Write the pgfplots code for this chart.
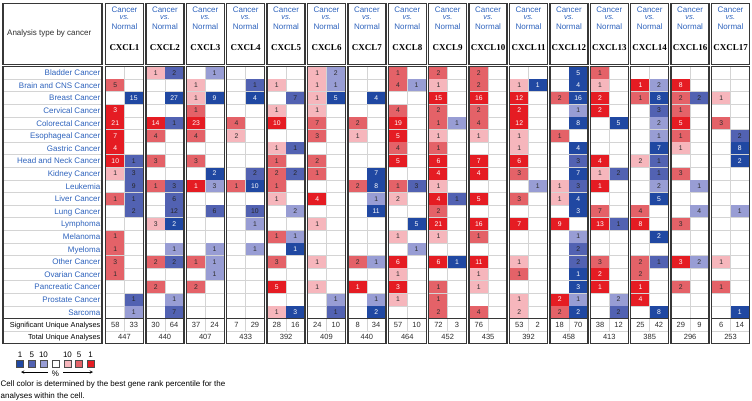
\documentclass[border=0pt]{standalone}
\usepackage{fontspec}
\setmainfont{Liberation Sans}
\newfontfamily\seriffont{Liberation Serif}
\usepackage{pgfplots}
\pgfplotsset{compat=1.18}
\usepackage{pgfplotstable}

\definecolor{rB}{RGB}{229,28,35}
\definecolor{rM}{RGB}{228,98,104}
\definecolor{rL}{RGB}{246,182,188}
\definecolor{bD}{RGB}{32,72,162}
\definecolor{bM}{RGB}{82,98,178}
\definecolor{bL}{RGB}{152,157,212}
\definecolor{lblue}{RGB}{45,98,188}
\definecolor{bordc}{RGB}{55,55,55}
\definecolor{gridc}{RGB}{212,212,212}
\definecolor{txt}{RGB}{45,45,45}

\pgfdeclareplotmark{cell}{\pgfpathrectangle{\pgfpoint{-9pt}{-6.05pt}}{\pgfpoint{18pt}{12.1pt}}\pgfusepathqfill}
\pgfdeclareplotmark{lsq}{\pgfpathrectangle{\pgfpoint{-3.7pt}{-3.7pt}}{\pgfpoint{7.4pt}{7.4pt}}\pgfusepathqfillstroke}

% g = gene index (0 = CXCL1 ... 15 = CXCL17), r = cancer row, n = number of analyses
\pgfplotstableread{
g r n
0 4 3
0 5 21
0 6 7
0 7 4
0 8 10
1 5 14
2 5 23
2 10 1
4 5 10
4 18 5
5 11 4
6 18 1
7 5 19
7 6 5
7 8 5
7 16 6
7 18 3
8 3 15
8 8 6
8 9 4
8 11 4
8 13 21
8 16 6
9 3 16
9 8 7
9 9 4
9 11 5
9 13 16
9 16 11
10 3 12
10 4 2
10 5 12
10 8 6
10 13 7
11 13 9
11 19 2
12 3 2
12 4 2
12 8 4
12 10 1
12 13 13
12 17 2
12 18 1
13 2 1
13 13 8
13 18 1
13 19 4
14 2 8
14 5 5
14 16 3
}\tRB
\pgfplotstableread{
g r n
0 2 5
0 11 1
0 14 1
0 15 1
0 16 3
0 17 1
1 6 4
1 8 3
1 10 1
1 16 2
1 18 2
2 4 1
2 6 4
2 8 3
2 16 1
2 18 2
3 5 4
3 10 1
4 8 1
4 9 2
4 10 1
4 14 1
4 16 3
5 5 7
5 6 3
5 8 2
5 9 1
6 5 2
6 10 2
6 16 2
7 1 1
7 2 4
7 4 4
7 7 4
7 10 1
8 1 2
8 4 2
8 5 1
8 7 1
8 12 2
8 18 1
8 19 1
8 20 2
9 1 2
9 2 2
9 4 2
9 5 4
9 14 1
9 20 4
10 9 3
10 11 3
10 17 1
11 3 2
11 6 1
11 20 2
12 1 1
12 12 7
12 16 3
13 3 1
13 12 4
13 16 2
13 17 2
14 3 2
14 4 1
14 6 1
14 9 3
14 13 3
14 18 2
15 5 3
15 18 1
}\tRM
\pgfplotstableread{
g r n
0 9 1
1 1 1
1 13 3
2 2 1
2 3 1
3 6 2
4 2 1
4 4 1
4 7 1
4 11 1
4 20 1
5 1 1
5 2 1
5 3 1
5 4 1
5 13 1
5 16 1
5 18 1
6 6 1
7 11 2
7 14 1
7 17 1
7 19 1
8 2 1
8 6 1
8 10 1
8 14 1
9 6 1
9 17 1
9 18 1
10 2 1
10 6 1
10 7 1
10 16 1
10 19 1
10 20 2
11 10 1
11 11 1
12 2 1
12 9 1
13 8 2
14 7 1
15 3 1
15 16 1
}\tRL
\pgfplotstableread{
g r n
0 3 15
1 3 27
1 13 2
2 3 9
2 9 2
3 3 4
3 10 10
4 15 1
4 20 3
5 3 5
6 3 4
6 9 7
6 10 8
6 12 11
6 20 2
7 13 5
8 16 1
10 2 1
11 1 5
11 2 4
11 3 16
11 5 8
11 7 4
11 9 7
11 11 4
11 12 3
11 17 1
11 18 3
11 20 2
12 5 5
13 3 8
13 7 7
13 11 5
13 14 2
13 20 8
15 7 8
15 8 2
15 20 1
}\tBD
\pgfplotstableread{
g r n
0 8 1
0 9 3
0 10 9
0 11 1
0 12 2
0 19 1
1 1 2
1 5 1
1 10 3
1 11 6
1 12 12
1 16 2
1 20 7
2 12 6
3 2 1
3 9 2
3 12 10
4 3 7
4 7 1
4 9 2
5 20 1
7 10 3
8 11 1
11 8 3
11 10 3
11 15 2
11 16 2
12 9 2
12 13 1
12 20 2
13 4 3
13 8 1
13 9 1
13 16 1
14 3 2
15 6 2
}\tBM
\pgfplotstableread{
g r n
0 20 1
1 15 1
1 19 1
2 1 1
2 10 3
2 15 1
2 16 1
2 17 1
3 13 1
3 15 1
4 12 2
4 14 1
5 1 2
5 2 1
5 19 1
6 11 1
6 16 1
6 19 1
7 2 1
7 15 1
8 5 1
10 10 1
11 4 1
11 14 1
11 19 1
12 19 2
13 2 2
13 5 2
13 6 1
13 10 2
14 10 1
14 12 4
14 16 2
15 12 1
}\tBL

\newcommand{\gene}[2]{\node[font=\seriffont\bfseries\fontsize{9}{10}\selectfont, inner sep=0, text=black] at (124.5+40.4*#1, 47.5) {#2};}
\newcommand{\summ}[4]{%
  \node[font=\fontsize{7.5}{8}\selectfont, inner sep=0, text=txt] at (115.25+40.4*#1, 324.75) {#2};
  \node[font=\fontsize{7.5}{8}\selectfont, inner sep=0, text=txt] at (133.75+40.4*#1, 324.75) {#3};
  \node[font=\fontsize{7.5}{8}\selectfont, inner sep=0, text=txt] at (124.5+40.4*#1, 337.25) {#4};}
\newcommand{\cname}[2]{\node[anchor=base east, font=\fontsize{8}{9}\selectfont, inner sep=0, text=lblue] at (100.5, 63.05+12.6*#1) {#2};}

\begin{document}
\begin{tikzpicture}
\begin{axis}[
  x=1pt, y=1pt, y dir=reverse,
  xmin=0, xmax=752, ymin=0, ymax=400,
  hide axis, clip=false, disabledatascaling,
  cellplot/.style={only marks, mark=cell, point meta=explicit symbolic, nodes near coords,
    every node near coord/.append style={anchor=center, inner sep=0, font=\fontsize{6.8}{8}\selectfont}},
]
\path (0,0) rectangle (752,400);

% light grid
\pgfplotsinvokeforeach{0,...,15}{
  \draw[gridc, line width=0.5pt] \foreach \k in {1,...,19}{(106+40.4*#1, 66.5+12.6*\k) -- (143+40.4*#1, 66.5+12.6*\k)};
  \draw[gridc, line width=0.5pt] (124.5+40.4*#1, 66.5) -- (124.5+40.4*#1, 331);
  \draw[gridc, line width=0.5pt] (106+40.4*#1, 331) -- (143+40.4*#1, 331);
}
\draw[gridc, line width=0.5pt] \foreach \k in {1,...,19}{(3, 66.5+12.6*\k) -- (102, 66.5+12.6*\k)};
\draw[gridc, line width=0.5pt] (3,331) -- (102,331);

% cells
\addplot[cellplot, color=rB, every node near coord/.append style={text=white}]
  table[x expr=115.25+40.4*\thisrow{g}, y expr=60.2+12.6*\thisrow{r}, meta=n] {\tRB};
\addplot[cellplot, color=rM, every node near coord/.append style={text=txt}]
  table[x expr=115.25+40.4*\thisrow{g}, y expr=60.2+12.6*\thisrow{r}, meta=n] {\tRM};
\addplot[cellplot, color=rL, every node near coord/.append style={text=txt}]
  table[x expr=115.25+40.4*\thisrow{g}, y expr=60.2+12.6*\thisrow{r}, meta=n] {\tRL};
\addplot[cellplot, color=bD, every node near coord/.append style={text=white}]
  table[x expr=133.75+40.4*\thisrow{g}, y expr=60.2+12.6*\thisrow{r}, meta=n] {\tBD};
\addplot[cellplot, color=bM, every node near coord/.append style={text=black!85}]
  table[x expr=133.75+40.4*\thisrow{g}, y expr=60.2+12.6*\thisrow{r}, meta=n] {\tBM};
\addplot[cellplot, color=bL, every node near coord/.append style={text=txt}]
  table[x expr=133.75+40.4*\thisrow{g}, y expr=60.2+12.6*\thisrow{r}, meta=n] {\tBL};

% borders and headers
\pgfplotsinvokeforeach{0,...,15}{
  \draw[bordc, line width=0.8pt] (106+40.4*#1, 318.5) -- (143+40.4*#1, 318.5);
  \draw[bordc, line width=1.3pt] (105.5+40.4*#1, 3.5) rectangle (143.5+40.4*#1, 64.5);
  \draw[bordc, line width=1.3pt] (105.5+40.4*#1, 66.5) rectangle (143.5+40.4*#1, 343.5);
  \node[text=lblue, font=\fontsize{8}{9}\selectfont, inner sep=0] at (124.5+40.4*#1, 9.5) {Cancer};
  \node[text=lblue, font=\itshape\fontsize{7.5}{9}\selectfont, inner sep=0] at (124.5+40.4*#1, 17.8) {vs.};
  \node[text=lblue, font=\fontsize{8}{9}\selectfont, inner sep=0] at (124.5+40.4*#1, 26.2) {Normal};
}
\draw[bordc, line width=0.8pt] (3,318.5) -- (102,318.5);
\draw[bordc, line width=1.3pt] (3,3.5) rectangle (102,64.5);
\draw[bordc, line width=1.3pt] (3,66.5) rectangle (102,343.5);
\node[anchor=base west, font=\fontsize{8}{9}\selectfont, inner sep=0, text=txt] at (7,35.8) {Analysis type by cancer};

\gene{0}{CXCL1}\gene{1}{CXCL2}\gene{2}{CXCL3}\gene{3}{CXCL4}
\gene{4}{CXCL5}\gene{5}{CXCL6}\gene{6}{CXCL7}\gene{7}{CXCL8}
\gene{8}{CXCL9}\gene{9}{CXCL10}\gene{10}{CXCL11}\gene{11}{CXCL12}
\gene{12}{CXCL13}\gene{13}{CXCL14}\gene{14}{CXCL16}\gene{15}{CXCL17}

\cname{1}{Bladder Cancer}
\cname{2}{Brain and CNS Cancer}
\cname{3}{Breast Cancer}
\cname{4}{Cervical Cancer}
\cname{5}{Colorectal Cancer}
\cname{6}{Esophageal Cancer}
\cname{7}{Gastric Cancer}
\cname{8}{Head and Neck Cancer}
\cname{9}{Kidney Cancer}
\cname{10}{Leukemia}
\cname{11}{Liver Cancer}
\cname{12}{Lung Cancer}
\cname{13}{Lymphoma}
\cname{14}{Melanoma}
\cname{15}{Myeloma}
\cname{16}{Other Cancer}
\cname{17}{Ovarian Cancer}
\cname{18}{Pancreatic Cancer}
\cname{19}{Prostate Cancer}
\cname{20}{Sarcoma}
\node[anchor=base east, font=\fontsize{7.3}{8}\selectfont, inner sep=0, text=black] at (100.5,327.4) {Significant Unique Analyses};
\node[anchor=base east, font=\fontsize{7.3}{8}\selectfont, inner sep=0, text=black] at (100.5,339.9) {Total Unique Analyses};

\summ{0}{58}{33}{447}
\summ{1}{30}{64}{440}
\summ{2}{37}{24}{407}
\summ{3}{7}{29}{433}
\summ{4}{28}{16}{392}
\summ{5}{24}{10}{409}
\summ{6}{8}{34}{440}
\summ{7}{57}{10}{464}
\summ{8}{72}{3}{452}
\summ{9}{76}{}{435}
\summ{10}{53}{2}{392}
\summ{11}{18}{70}{458}
\summ{12}{38}{12}{413}
\summ{13}{25}{42}{385}
\summ{14}{29}{9}{296}
\summ{15}{6}{14}{253}

% colour key
\addplot[only marks, mark=lsq, mark options={fill=bD, draw=black!70, line width=0.6pt}] coordinates {(20,364)};
\addplot[only marks, mark=lsq, mark options={fill=bM, draw=black!70, line width=0.6pt}] coordinates {(31.8,364)};
\addplot[only marks, mark=lsq, mark options={fill=bL, draw=black!70, line width=0.6pt}] coordinates {(43.5,364)};
\addplot[only marks, mark=lsq, mark options={fill=white, draw=black!70, line width=0.6pt}] coordinates {(55.5,364)};
\addplot[only marks, mark=lsq, mark options={fill=rL, draw=black!70, line width=0.6pt}] coordinates {(67.5,364)};
\addplot[only marks, mark=lsq, mark options={fill=rM, draw=black!70, line width=0.6pt}] coordinates {(79,364)};
\addplot[only marks, mark=lsq, mark options={fill=rB, draw=black!70, line width=0.6pt}] coordinates {(90.5,364)};
\node[font=\fontsize{8}{9}\selectfont, inner sep=0] at (20,355) {1};
\node[font=\fontsize{8}{9}\selectfont, inner sep=0] at (31.8,355) {5};
\node[font=\fontsize{8}{9}\selectfont, inner sep=0] at (43.5,355) {10};
\node[font=\fontsize{8}{9}\selectfont, inner sep=0] at (67.5,355) {10};
\node[font=\fontsize{8}{9}\selectfont, inner sep=0] at (79,355) {5};
\node[font=\fontsize{8}{9}\selectfont, inner sep=0] at (90.5,355) {1};
\draw[-stealth, line width=0.5pt] (48,372) -- (21,372);
\draw[-stealth, line width=0.5pt] (63,372) -- (93,372);
\node[font=\fontsize{8}{9}\selectfont, inner sep=0] at (55.5,373.5) {\%};
\node[anchor=base west, font=\fontsize{8}{9}\selectfont, inner sep=0] at (0.5,386) {Cell color is determined by the best gene rank percentile for the};
\node[anchor=base west, font=\fontsize{8}{9}\selectfont, inner sep=0] at (0.5,398) {analyses within the cell.};
\end{axis}
\end{tikzpicture}
\end{document}
